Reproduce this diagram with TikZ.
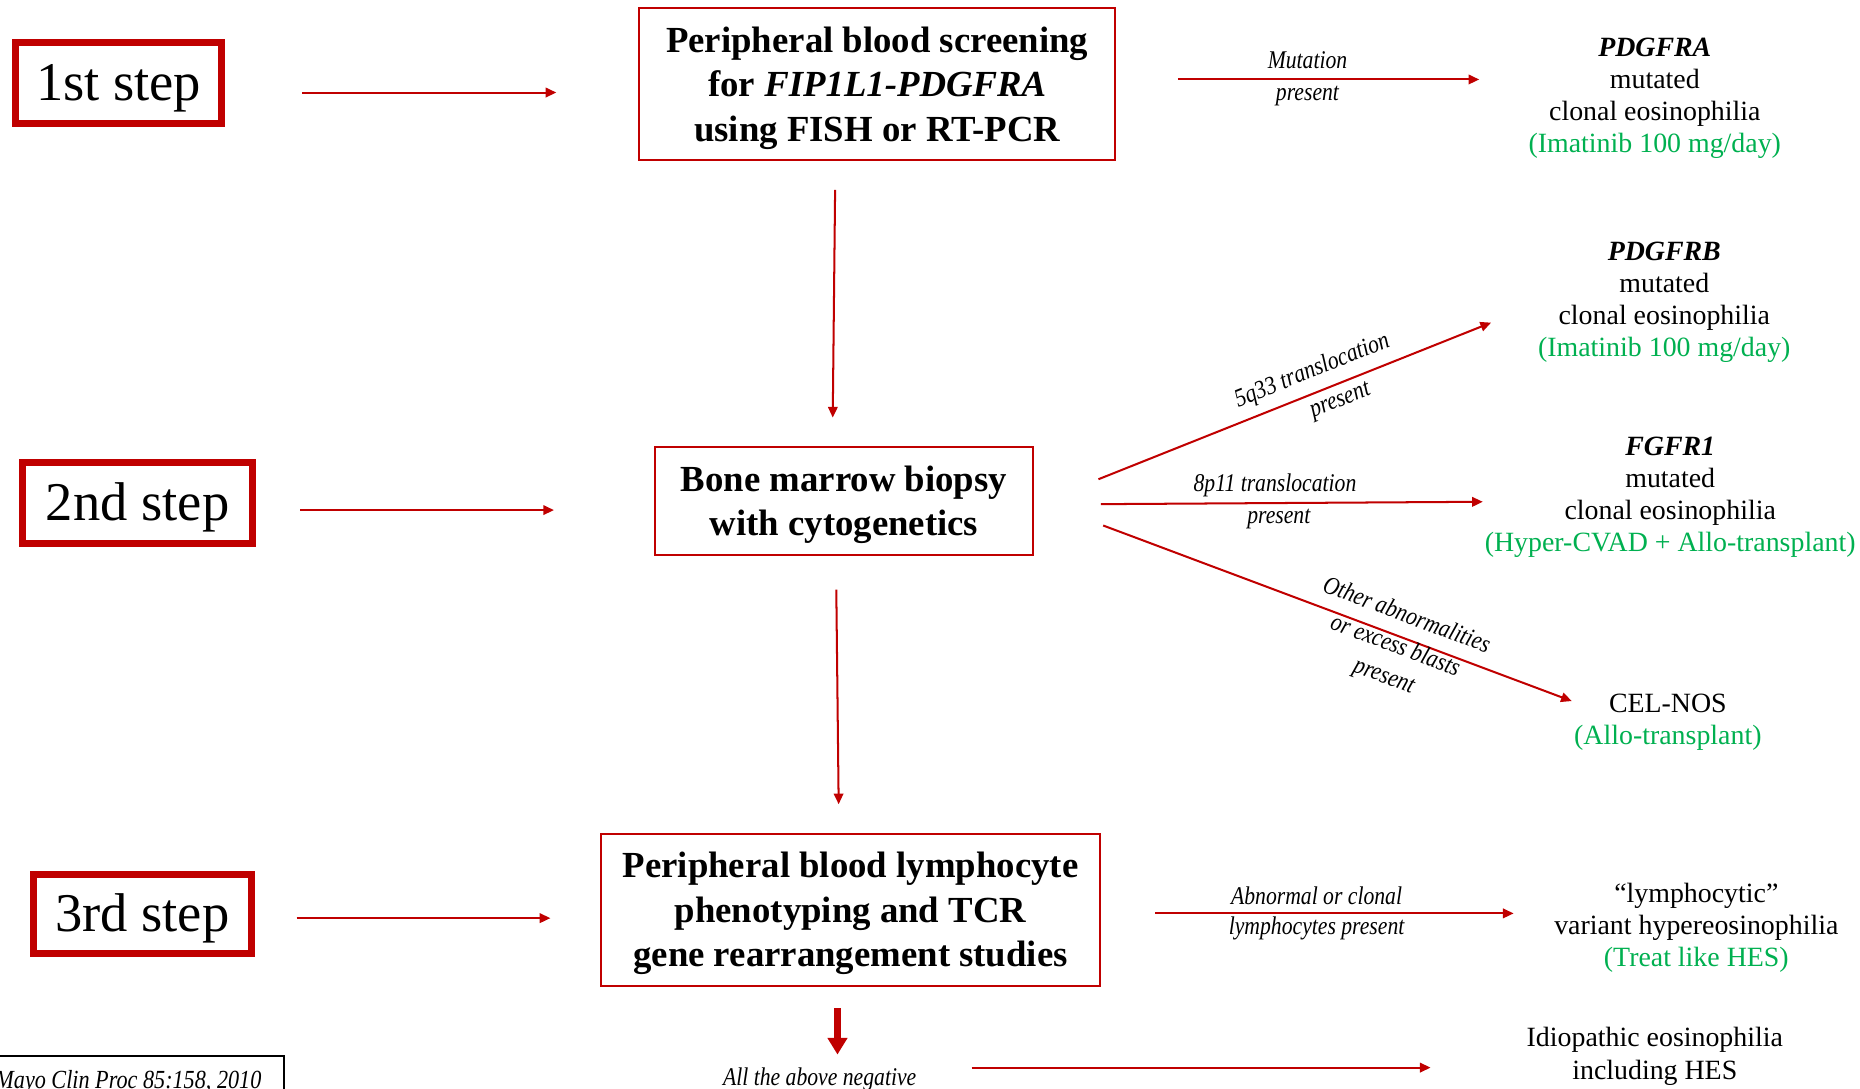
\documentclass[tikz,border=0pt]{standalone}
\usepackage{fontspec}
\setmainfont{Liberation Serif}
\newfontfamily\lblfont{Liberation Serif}[FakeStretch=0.85]
\usetikzlibrary{arrows.meta}
\definecolor{dred}{HTML}{C00000}
\definecolor{dgreen}{HTML}{00B050}
\newcommand{\topstrut}[1]{\rule{0pt}{#1}}
\begin{document}
\begin{tikzpicture}[x=1pt,y=1pt,
  stepbox/.style={draw=dred, line width=6pt, inner sep=0pt, font=\fontsize{46}{50}\selectfont, text=black},
  mainbox/.style={draw=dred, line width=1.8pt, inner sep=0pt, align=center, font=\fontsize{31}{37.5}\selectfont\bfseries},
  result/.style={align=center, inner sep=0pt, font=\fontsize{23.5}{27}\selectfont},
  arr/.style={draw=dred, line width=1.7pt, -{Triangle[length=9pt,width=8pt]}},
  lab/.style={inner sep=0pt, font=\lblfont\itshape\fontsize{21.5}{27}\selectfont, text height=15pt, text depth=5pt},
  lab3/.style={inner sep=0pt, align=center, font=\lblfont\itshape\fontsize{21.5}{27}\selectfont},
]
\useasboundingbox (0,0) rectangle (1568,-918);

% step boxes
\node[stepbox, minimum width=174pt, minimum height=68pt] (s1) at (100,-70) {\topstrut{40pt}1st step};
\node[stepbox, minimum width=194pt, minimum height=68pt] (s2) at (116,-424) {\topstrut{40pt}2nd step};
\node[stepbox, minimum width=184pt, minimum height=67pt] (s3) at (120,-770.5) {\topstrut{40pt}3rd step};

% main boxes
\node[mainbox, minimum width=401pt, minimum height=128pt] (b1) at (739.5,-71)
  {\topstrut{28pt}Peripheral blood screening\\for \textit{FIP1L1-PDGFRA}\\using FISH or RT-PCR};
\node[mainbox, minimum width=319pt, minimum height=91pt] (b2) at (711.5,-422.5)
  {\topstrut{28pt}Bone marrow biopsy\\with cytogenetics};
\node[mainbox, minimum width=420pt, minimum height=128pt] (b3) at (717,-767)
  {\topstrut{28pt}Peripheral blood lymphocyte\\phenotyping and TCR\\gene rearrangement studies};

% results
\node[result] (t1) at (1395,-82.5) {\textbf{\textit{PDGFRA}}\\mutated\\clonal eosinophilia\\\textcolor{dgreen}{(Imatinib 100 mg/day)}};
\node[result] (t2) at (1403,-255) {\textbf{\textit{PDGFRB}}\\mutated\\clonal eosinophilia\\\textcolor{dgreen}{(Imatinib 100 mg/day)}};
\node[result] (t3) at (1408,-419) {\textbf{\textit{FGFR1}}\\mutated\\clonal eosinophilia\\\textcolor{dgreen}{(Hyper-CVAD + Allo-transplant)}};
\node[result] (t4) at (1406,-609) {CEL-NOS\\\textcolor{dgreen}{(Allo-transplant)}};
\node[result] (t5) at (1430,-782) {“lymphocytic”\\variant hypereosinophilia\\\textcolor{dgreen}{(Treat like HES)}};
\node[result] (t6) at (1395,-890.5) {Idiopathic eosinophilia\\including HES};

% connector end points
\coordinate (a1s) at (255,-78);  \coordinate (a1e) at (469,-78);
\coordinate (a2s) at (253,-430); \coordinate (a2e) at (467,-430);
\coordinate (a3s) at (250,-774); \coordinate (a3e) at (464,-774);
\coordinate (v1s) at (704,-160); \coordinate (v1e) at (702,-352);
\coordinate (v2s) at (705,-497); \coordinate (v2e) at (707,-678);
\coordinate (v3s) at (706,-850); \coordinate (v3e) at (706,-889);
\coordinate (r1s) at (993,-67);  \coordinate (r1e) at (1247,-67);
\coordinate (r2s) at (926,-404); \coordinate (r2e) at (1257,-272);
\coordinate (r3s) at (928,-425); \coordinate (r3e) at (1250,-423);
\coordinate (r4s) at (930,-443); \coordinate (r4e) at (1325,-591);
\coordinate (r5s) at (974,-770); \coordinate (r5e) at (1276,-770);
\coordinate (r6s) at (819,-900); \coordinate (r6e) at (1206,-900);

% step arrows
\draw[arr] (a1s) -- (a1e);
\draw[arr] (a2s) -- (a2e);
\draw[arr] (a3s) -- (a3e);

% vertical arrows
\draw[arr] (v1s) -- (v1e);
\draw[arr] (v2s) -- (v2e);
\draw[dred, line width=6pt, -{Triangle[length=14pt,width=16pt]}] (v3s) -- (v3e);

% outcome arrows with labels
\draw[arr] (r1s) -- node[lab, pos=.43, above=3pt] {Mutation} node[lab, pos=.43, below=2pt] {present} (r1e);
\draw[arr] (r2s) -- node[lab, sloped, pos=.565, above=7pt] {5q33 translocation} node[lab, sloped, pos=.6, below=3pt] {present} (r2e);
\draw[arr] (r3s) -- node[lab, pos=.456, above=4pt] {8p11 translocation} node[lab, pos=.466, below=1pt] {present} (r3e);
\draw[arr] (r4s) -- (r4e);
\node[lab3, rotate=-20.5] (r4l) at (1176,-545) {Other abnormalities\\or excess blasts\\present};
\draw[arr] (r5s) -- node[lab, pos=.45, above=2pt] {Abnormal or clonal} node[lab, pos=.45, below=2pt] {lymphocytes present} (r5e);
\node[inner sep=0pt, anchor=base, font=\lblfont\itshape\fontsize{21.5}{24}\selectfont] (neg) at (691,-915) {All the above negative};
\draw[arr] (r6s) -- (r6e);

% citation box
\node[draw=black, line width=1.3pt, inner xsep=19pt, inner ysep=13pt, text height=15pt, text depth=5pt,
      anchor=base east, font=\lblfont\itshape\fontsize{22}{26}\selectfont] (cite) at (240,-918) {Mayo Clin Proc 85:158, 2010};
\end{tikzpicture}
\end{document}
